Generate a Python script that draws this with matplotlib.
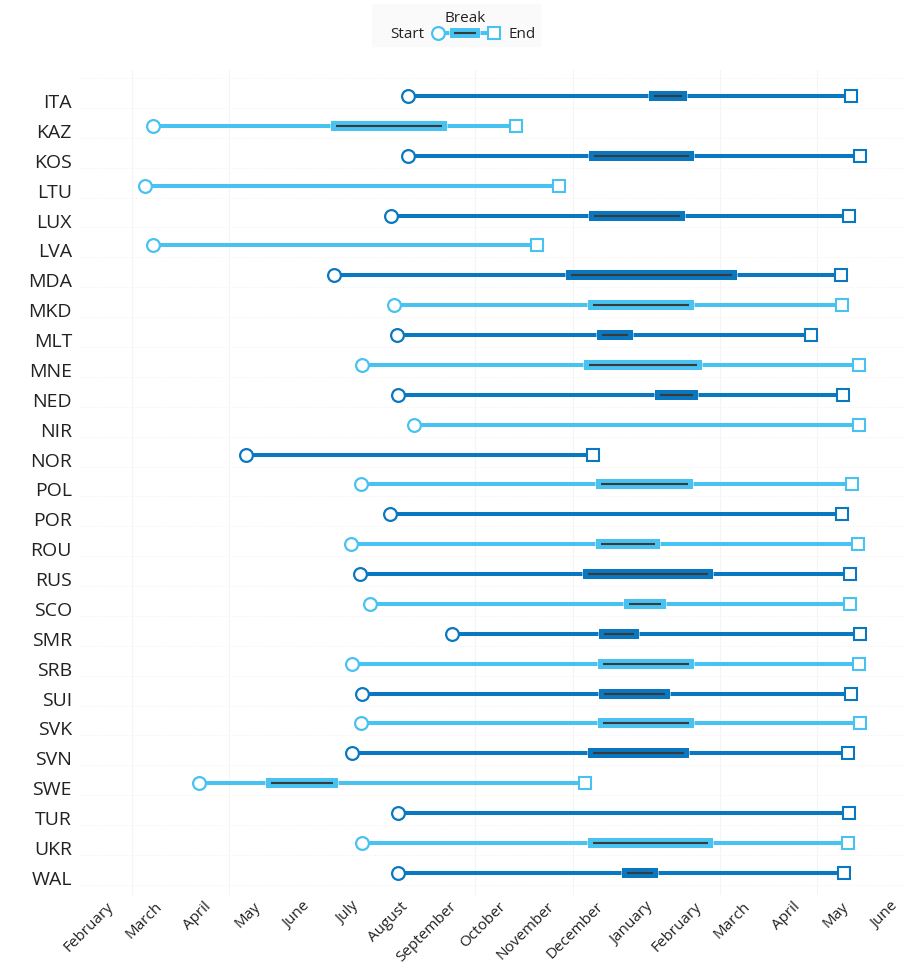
import numpy as np
import matplotlib
matplotlib.use('Agg')
from matplotlib import pyplot as plt
import matplotlib.patheffects as pe
from matplotlib.transforms import ScaledTranslation, blended_transform_factory

plt.rcParams['font.family'] = ['Open Sans', 'DejaVu Sans']

# x unit: months, 0 = first "February" tick
months = ['February', 'March', 'April', 'May', 'June', 'July', 'August', 'September',
          'October', 'November', 'December', 'January', 'February', 'March', 'April',
          'May', 'June']
teams = ['ITA', 'KAZ', 'KOS', 'LTU', 'LUX', 'LVA', 'MDA', 'MKD', 'MLT', 'MNE', 'NED',
         'NIR', 'NOR', 'POL', 'POR', 'ROU', 'RUS', 'SCO', 'SMR', 'SRB', 'SUI', 'SVK',
         'SVN', 'SWE', 'TUR', 'UKR', 'WAL']
start = [6.08, 0.88, 6.08, 0.71, 5.73, 0.88, 4.57, 5.80, 5.86, 5.14, 5.88, 6.20, 2.78,
         5.12, 5.71, 4.92, 5.10, 5.31, 6.98, 4.94, 5.14, 5.12, 4.94, 1.82, 5.88, 5.14, 5.88]
end = [15.12, 8.29, 15.31, 9.16, 15.08, 8.71, 14.92, 14.94, 14.31, 15.29, 14.96, 15.29,
       9.86, 15.14, 14.94, 15.27, 15.10, 15.10, 15.31, 15.29, 15.12, 15.31, 15.06, 9.69,
       15.08, 15.06, 14.98]
# winter break (None = no break)
brk_start = [11.10, 4.61, 9.88, None, 9.88, None, 9.41, 9.86, 10.04, 9.78, 11.22, None,
             None, 10.02, None, 10.02, 9.76, 10.59, 10.08, 10.06, 10.08, 10.06, 9.86,
             3.29, None, 9.86, 10.55]
brk_end = [11.67, 6.78, 11.82, None, 11.63, None, 12.69, 11.82, 10.57, 11.98, 11.90, None,
           None, 11.80, None, 11.12, 12.20, 11.24, 10.69, 11.82, 11.33, 11.82, 11.71,
           4.55, None, 12.20, 11.08]
grid_months = [0.45, 2.43, 7.45, 9.45, 12.45, 14.43]

dark = '#0A78C0'
light = '#48C2F0'
inner = '#3a3a3a'

fig = plt.figure(figsize=(9.15, 9.69), dpi=100)
ax = fig.add_axes([80/915, 1-895/969, 825/915, 825/969])

outline = [pe.Stroke(linewidth=8.4, foreground='white', alpha=0.6), pe.Normal()]
for i, t in enumerate(teams):
    c = dark if i % 2 == 0 else light
    ax.plot([start[i], end[i]], [i, i], color=c, lw=2.9, solid_capstyle='butt', zorder=3)
    if brk_start[i] is not None:
        ax.plot([brk_start[i], brk_end[i]], [i, i], color=c, lw=7.2,
                solid_capstyle='projecting', zorder=4, path_effects=outline)
        ax.plot([brk_start[i], brk_end[i]], [i, i], color=inner, lw=1.5,
                solid_capstyle='butt', zorder=5)
    ax.plot(start[i], i, 'o', ms=9.2, mfc='white', mec=c, mew=1.6, zorder=6)
    ax.plot(end[i], i, 's', ms=8.2, mfc='white', mec=c, mew=1.5, zorder=6)

for k in range(-1, len(teams)):
    ax.axhline(k + 0.4, color='#efefef', lw=0.7, ls=(0, (1, 2)), zorder=1)
for g in grid_months:
    ax.axvline(g, color='#f4f4f4', lw=0.8, zorder=1)

ax.set_xlim(-0.612, 16.22)
ax.set_ylim(26.74, -0.87)
ax.set_xticks([])
ax.set_yticks([])
for s in ax.spines.values():
    s.set_visible(False)

# axis labels as plain texts so they can be nudged like the reference
ytr = blended_transform_factory(ax.transAxes, ax.transData) + \
    ScaledTranslation(-8/100, -7/100, fig.dpi_scale_trans)
for i, t in enumerate(teams):
    ax.text(0, i, t, transform=ytr, ha='right', va='center', fontsize=14,
            color='#222222', clip_on=False)
xtr = blended_transform_factory(ax.transData, ax.transAxes) + \
    ScaledTranslation(-4/100, -4/100, fig.dpi_scale_trans)
for k, m in enumerate(months):
    ax.text(k, 0, m, transform=xtr, ha='right', va='top', rotation=45,
            rotation_mode='anchor', fontsize=11, color='#222222', clip_on=False)

# legend drawn in pixel space at the top
lg = fig.add_axes([0, 1-60/969, 1, 60/969])
lg.set_xlim(0, 915)
lg.set_ylim(60, 0)
lg.axis('off')
lg.add_patch(plt.Rectangle((372, 4), 168, 42, color='#fafafa', zorder=0))
lg.plot([438, 494], [33, 33], color=light, lw=2.9, zorder=2)
lg.plot([455, 475], [33, 33], color=light, lw=7.2, solid_capstyle='projecting', zorder=3,
        path_effects=outline)
lg.plot([455, 475], [33, 33], color=inner, lw=1.5, zorder=4)
lg.plot(438, 33, 'o', ms=9.2, mfc='white', mec=light, mew=1.6, zorder=5)
lg.plot(494, 33, 's', ms=8.2, mfc='white', mec=light, mew=1.5, zorder=5)
lg.text(424, 34, 'Start', ha='right', va='center', fontsize=11, color='#222222')
lg.text(509, 34, 'End', ha='left', va='center', fontsize=11, color='#222222')
lg.text(465, 18, 'Break', ha='center', va='center', fontsize=11, color='#222222')

fig.savefig('out.png', dpi=100)
